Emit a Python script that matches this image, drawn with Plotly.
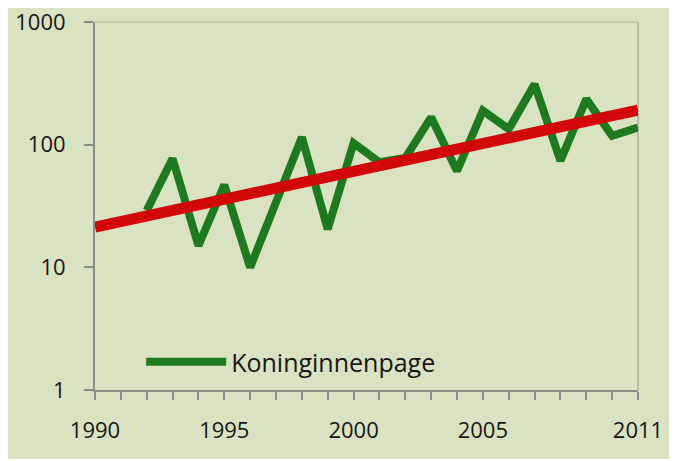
import plotly.graph_objects as go

years = [1992, 1993, 1994, 1995, 1996, 1997, 1998, 1999, 2000, 2001, 2002,
         2003, 2004, 2005, 2006, 2007, 2008, 2009, 2010, 2011]
counts = [29, 77, 15, 47, 10, 34, 115, 20.5, 103, 72, 78,
          167, 61, 189, 134, 311, 74, 235, 118, 138]

trend_years = [1990, 2011]
trend_values = [21.3, 191]

x_tick_years = list(range(1990, 2012))
x_tick_labels = {1990: "1990", 1995: "1995", 2000: "2000", 2005: "2005", 2011: "2011"}
y_tick_vals = [1, 10, 100, 1000]
y_tick_labels = ["1", "10", "100", "1000"]

BG = "#d9e3c1"
FONT = "Open Sans"

fig = go.Figure()
fig.add_trace(go.Scatter(
    x=years, y=counts, mode="lines", name="Koninginnenpage",
    line=dict(color="#1e7a1e", width=8), showlegend=True,
))
fig.add_trace(go.Scatter(
    x=trend_years, y=trend_values, mode="lines", name="trend",
    line=dict(color="#d20808", width=11), showlegend=False,
))

fig.update_layout(
    width=669, height=451,
    margin=dict(l=87, r=39, t=14, b=69, autoexpand=False),
    paper_bgcolor=BG, plot_bgcolor=BG,
    font=dict(family=FONT, color="#151515", size=21),
    legend=dict(
        x=0.085, y=0.076, xanchor="left", yanchor="middle",
        bgcolor="rgba(0,0,0,0)", font=dict(size=25, color="#151515"),
        itemwidth=80,
    ),
    xaxis=dict(
        range=[1990, 2011], automargin=False,
        tickmode="array", tickvals=x_tick_years,
        ticktext=[x_tick_labels.get(y, "") for y in x_tick_years],
        ticks="outside", ticklen=8, tickwidth=2, tickcolor="#8a8f86",
        showline=True, linecolor="#8a8f86", linewidth=2,
        showgrid=False, zeroline=False,
        ticklabelstandoff=12, ticklabeloverflow="allow",
        tickfont=dict(size=22),
    ),
    yaxis=dict(
        type="log", range=[0, 3], automargin=False,
        tickmode="array", tickvals=y_tick_vals, ticktext=y_tick_labels,
        ticks="outside", ticklen=9, tickwidth=2, tickcolor="#8a8f86",
        showline=True, linecolor="#8a8f86", linewidth=2,
        showgrid=False, zeroline=False,
        ticklabelstandoff=14, ticklabeloverflow="allow",
        tickfont=dict(size=22),
    ),
)
# faint top and right frame
fig.add_shape(type="line", xref="paper", yref="paper", x0=1, x1=1, y0=0, y1=1,
              line=dict(color="#b3bda6", width=2), layer="below")
fig.add_shape(type="line", xref="paper", yref="paper", x0=0, x1=1, y0=1, y1=1,
              line=dict(color="#c2ccb2", width=2), layer="below")

fig.write_html("out.html")
